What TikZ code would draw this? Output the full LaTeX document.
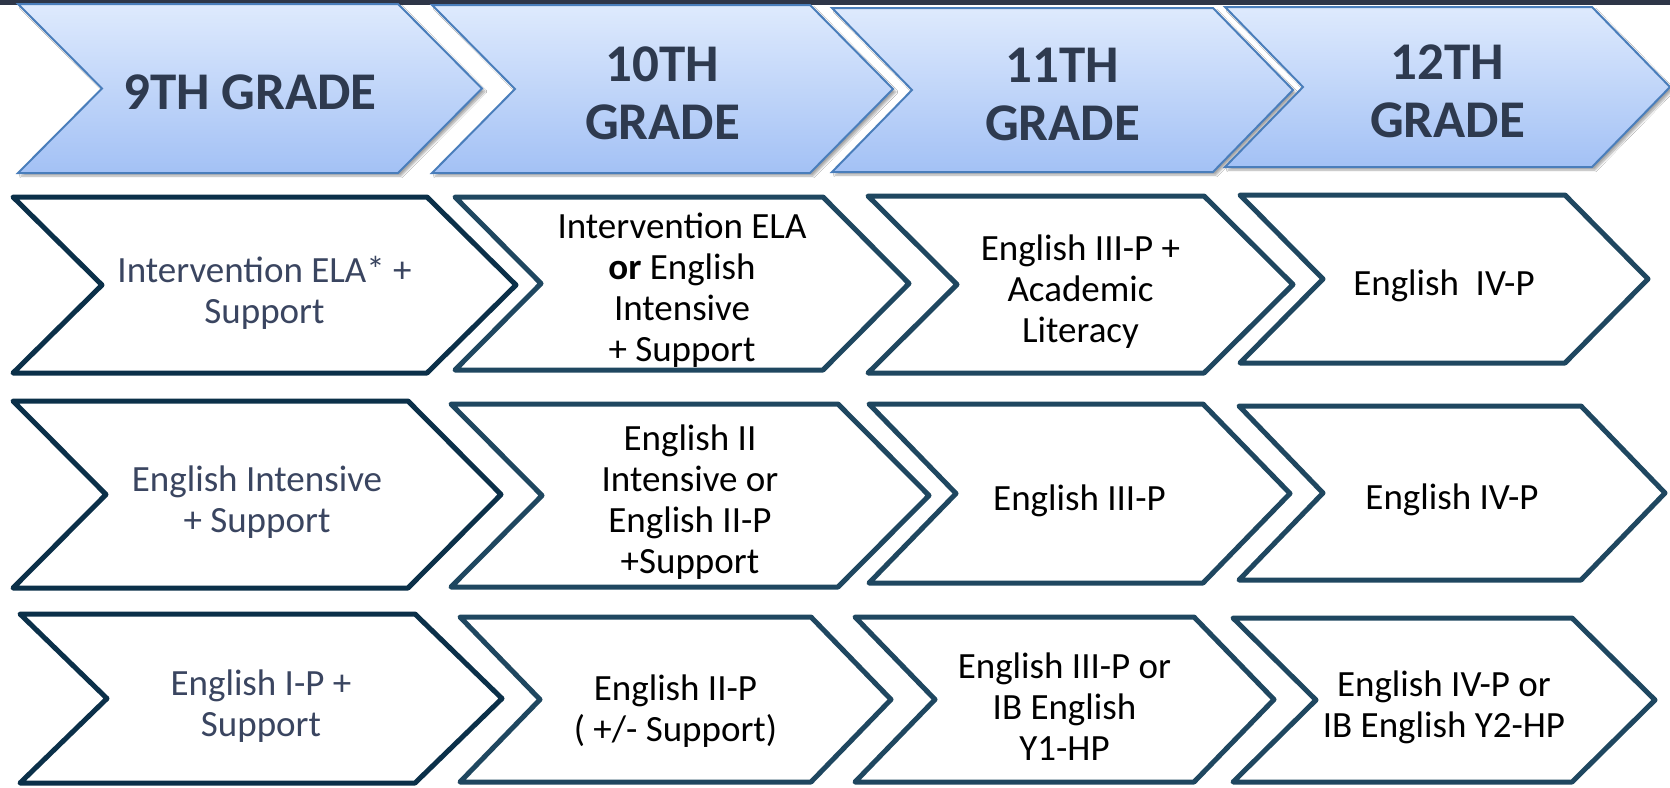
\documentclass[tikz,border=0pt]{standalone}
\usepackage{fontspec}
\setmainfont{Carlito}
\usepackage{tikz}
\usetikzlibrary{shadows.blur}

\definecolor{bandgray}{HTML}{2E3648}
\definecolor{headtop}{HTML}{DEEAFD}
\definecolor{headbot}{HTML}{A3C1F5}
\definecolor{headline}{HTML}{4A7EBB}
\definecolor{headtext}{HTML}{2E3A4F}
\definecolor{firstline}{HTML}{0B3049}
\definecolor{firsttext}{HTML}{3A4560}
\definecolor{courseline}{HTML}{1F4760}

% chevron: [style]{name}{left}{right}{top}{bottom}{depth}
\newcommand{\gradechev}[7][]{%
  \draw[#1] (#3,#5) -- (#4,#5) -- ({#4+#7},{(#5+#6)/2}) -- (#4,#6)
    -- (#3,#6) -- ({#3+#7},{(#5+#6)/2}) -- cycle;
  \coordinate (#2) at ({(#3+#4+#7)/2},{(#5+#6)/2});
}

\begin{document}
\begin{tikzpicture}[x=1pt,y=-1pt,
    header/.style={draw=headline,line width=2pt,top color=headtop,bottom color=headbot,
      blur shadow={shadow xshift=3pt,shadow yshift=-3pt,shadow blur steps=8,shadow opacity=35}},
    firstbox/.style={draw=firstline,line width=5pt,line join=round,fill=white},
    coursebox/.style={draw=courseline,line width=5pt,line join=round,fill=white},
    headlabel/.style={text=headtext,font=\fontsize{53}{58}\selectfont\bfseries,align=center,yshift=-4pt},
    firstlabel/.style={text=firsttext,font=\fontsize{37}{41}\selectfont,align=center,yshift=-8pt},
    courselabel/.style={text=black,font=\fontsize{37}{41}\selectfont,align=center,yshift=-7pt}]

    \useasboundingbox (0,0) rectangle (1670,787);
    \fill[white] (0,0) rectangle (1670,787);

    % Dark strip along the top
    \fill[bandgray] (0,0) rectangle (1670,5);

    % Grade headers
    \gradechev[header]{g9}{18}{398}{4}{173}{84}
    \gradechev[header]{g10}{432}{810}{5}{173}{83}
    \gradechev[header]{g11}{832}{1213}{8}{172}{80}
    \gradechev[header]{g12}{1225}{1592}{7}{167}{78}
    \node[headlabel] (g9label) at (g9) {9TH GRADE};
    \node[headlabel] (g10label) at (g10) {10TH\\GRADE};
    \node[headlabel] (g11label) at (g11) {11TH\\GRADE};
    \node[headlabel] (g12label) at (g12) {12TH\\GRADE};

    % First pathway
    \gradechev[firstbox]{p11}{13}{427}{197}{373}{89}
    \gradechev[coursebox]{p12}{455}{823}{197}{370}{86}
    \gradechev[coursebox]{p13}{868}{1204}{196}{373}{89}
    \gradechev[coursebox]{p14}{1240}{1565}{195}{363}{83}
    \node[firstlabel] (p11label) at (p11) {Intervention ELA* +\\Support};
    \node[courselabel] (p12label) at (p12) {Intervention ELA\\\textbf{or} English\\Intensive\\+ Support};
    \node[courselabel] (p13label) at (p13) {English III-P +\\Academic\\Literacy};
    \node[courselabel] (p14label) at (p14) {English\ \ IV-P};

    % Second pathway
    \gradechev[firstbox]{q11}{13}{408}{401}{588}{93}
    \gradechev[coursebox]{q12}{451}{838}{404}{587}{91}
    \gradechev[coursebox]{q13}{869}{1203}{404}{583}{87}
    \gradechev[coursebox]{q14}{1239}{1581}{406}{580}{84}
    \node[firstlabel] (q11label) at (q11) {English Intensive\\+ Support};
    \node[courselabel] (q12label) at (q12) {English II\\Intensive or\\English II-P\\+Support};
    \node[courselabel] (q13label) at (q13) {English III-P};
    \node[courselabel] (q14label) at (q14) {English IV-P};

    % Third pathway
    \gradechev[firstbox]{r11}{20}{415}{614}{783}{87}
    \gradechev[coursebox]{r12}{460}{811}{617}{782}{80}
    \gradechev[coursebox]{r13}{855}{1194}{617}{782}{80}
    \gradechev[coursebox]{r14}{1233}{1572}{618}{782}{83}
    \node[firstlabel] (r11label) at (r11) {English I-P +\\Support};
    \node[courselabel,yshift=-5pt] (r12label) at (r12) {English II-P\\( +/- Support)};
    \node[courselabel] (r13label) at (r13) {English III-P or\\IB English\\Y1-HP};
    \node[courselabel] (r14label) at (r14) {English IV-P or\\IB English Y2-HP};
\end{tikzpicture}
\end{document}
